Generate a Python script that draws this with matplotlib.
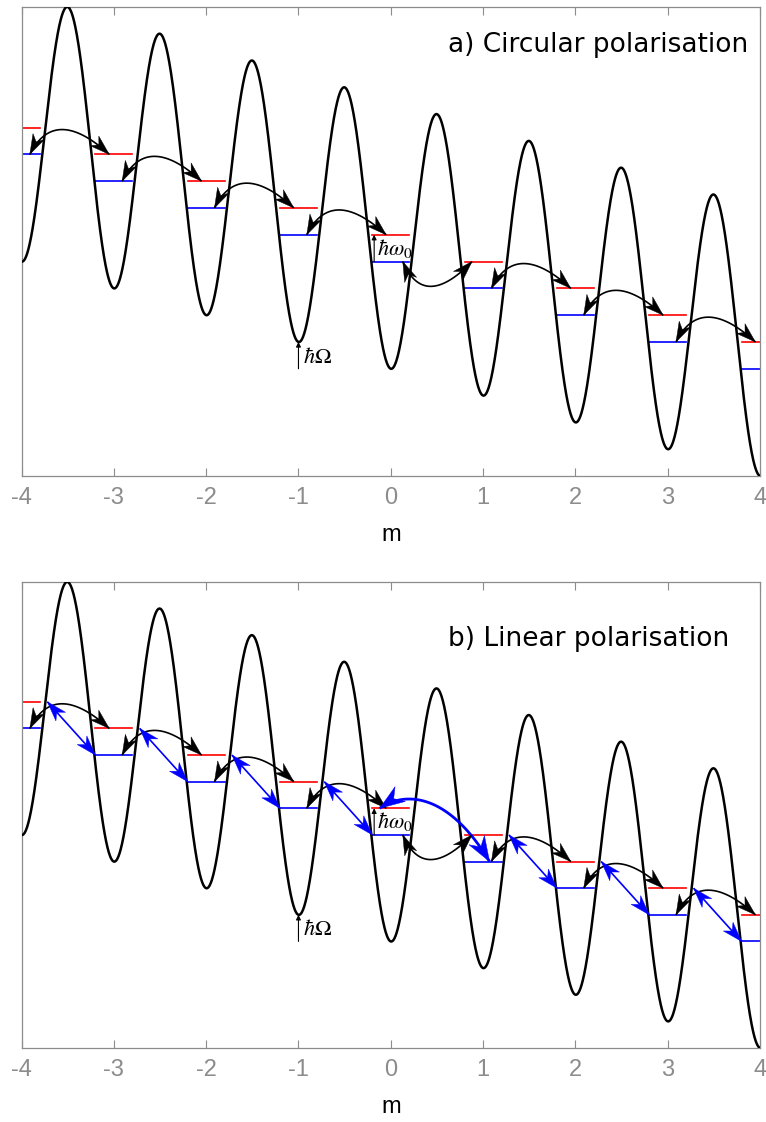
import numpy as np
import matplotlib
matplotlib.use('Agg')
import matplotlib.pyplot as plt
from matplotlib.patches import Polygon

# lattice sites and level energies (in units of hbar*omega0)
m_sites = [-4, -3, -2, -1, 0, 1, 2, 3, 4]
upper_levels = [4, 3, 2, 1, 0, -1, -2, -3, -4]   # red
lower_levels = [3, 2, 1, 0, -1, -2, -3, -4, -5]  # blue

# potential: linear tilt plus periodic modulation
tilt = 1.0
depth = 5.0
period = 1.0

# black arcs: lower level at m -> upper level at m+1 (1 = bends up, -1 = bends down)
arc_from = [-4, -3, -2, -1, 0, 1, 2, 3]
arc_bend = [1, 1, 1, 1, -1, 1, 1, 1]

# blue arrows in panel b: upper level at m -> lower level at m+1
diag_from = [-4, -3, -2, -1, 1, 2, 3]
big_from = 0

xticks = [-4, -3, -2, -1, 0, 1, 2, 3, 4]
titles = ['a) Circular polarisation', 'b) Linear polarisation']
title_y = [0.919, 0.878]

plt.rcParams['axes.unicode_minus'] = False
plt.rcParams['mathtext.fontset'] = 'stix'

GRAY = '#8c8c8c'


def bezier(pts, n=120):
    pts = np.asarray(pts, float)
    t = np.linspace(0, 1, n)[:, None]
    if len(pts) == 3:
        return (1 - t) ** 2 * pts[0] + 2 * (1 - t) * t * pts[1] + t ** 2 * pts[2]
    return ((1 - t) ** 3 * pts[0] + 3 * (1 - t) ** 2 * t * pts[1]
            + 3 * (1 - t) * t ** 2 * pts[2] + t ** 3 * pts[3])


# notched arrow head, sized in pixels
def head(ax, tip, prev, color, L, W, notch):
    T = ax.transData.transform(tip)
    P = ax.transData.transform(prev)
    d = (T - P) / np.hypot(*(T - P))
    p = np.array([-d[1], d[0]])
    poly = np.array([T, T - L * d + W * p, T - (L - notch) * d, T - L * d - W * p])
    poly = ax.transData.inverted().transform(poly)
    ax.add_patch(Polygon(poly, closed=True, fc=color, ec=color, lw=0.3, zorder=5))


def arrow(ax, ctrl, color, lw, L=20, W=6.5, notch=6):
    pts = bezier(ctrl)
    ax.plot(pts[:, 0], pts[:, 1], color=color, lw=lw, solid_capstyle='butt', zorder=4)
    head(ax, ctrl[0], ctrl[1], color, L, W, notch)
    head(ax, ctrl[-1], ctrl[-2], color, L, W, notch)


def draw_panel(ax, title, ty, linear):
    ax.set_xlim(-4, 4)
    ax.set_ylim(-9, 8.5)

    x = np.linspace(-4, 4, 3000)
    v = -tilt * x - depth * np.cos(2 * np.pi * x / period)
    ax.plot(x, v, color='black', lw=1.8, zorder=3)

    for m, up, lo in zip(m_sites, upper_levels, lower_levels):
        ax.plot([m - 0.2, m + 0.2], [up, up], color='red', lw=1.2, zorder=2)
        ax.plot([m - 0.2, m + 0.2], [lo, lo], color='blue', lw=1.2, zorder=2)

    # black arcs
    for m, b in zip(arc_from, arc_bend):
        i = m_sites.index(m)
        lev = lower_levels[i]
        if b > 0:
            p0 = (m + 0.09, lev)
            p1 = (m + 0.95, lev)
        else:
            p0 = (m + 0.13, lev)
            p1 = (m + 0.88, lev)
        c = (m + 0.36, lev + b * 1.85)
        arrow(ax, [p0, c, p1], 'black', 1.2)

    if linear:
        for m in diag_from:
            i = m_sites.index(m)
            p0 = (m + 0.28, upper_levels[i])
            p1 = (m + 0.8, lower_levels[i + 1])
            mid = ((p0[0] + p1[0]) / 2, (p0[1] + p1[1]) / 2)
            arrow(ax, [p0, mid, p1], 'blue', 1.2, L=20, W=6.5, notch=6)
        i = m_sites.index(big_from)
        p0 = (big_from - 0.12, upper_levels[i])
        p3 = (big_from + 1.07, lower_levels[i + 1])
        c1 = (big_from + 0.15, upper_levels[i] + 0.65)
        c2 = (big_from + 0.62, upper_levels[i] + 0.6)
        arrow(ax, [p0, c1, c2, p3], 'blue', 2.0, L=25, W=9, notch=8)

    # hbar Omega and hbar omega0 markers
    ax.annotate('', xy=(-1, -4), xytext=(-1, -5),
                arrowprops=dict(arrowstyle='-|>', color='black', lw=0.8,
                                mutation_scale=7, shrinkA=0, shrinkB=0))
    ax.text(-0.95, -4.55, r'$\hbar\Omega$', fontsize=16, va='center', ha='left')
    ax.annotate('', xy=(-0.18, 0), xytext=(-0.18, -1),
                arrowprops=dict(arrowstyle='-|>', color='black', lw=0.8,
                                mutation_scale=7, shrinkA=0, shrinkB=0))
    ax.text(-0.15, -0.5, r'$\hbar\omega_0$', fontsize=16, va='center', ha='left')

    ax.text(0.577, ty, title, transform=ax.transAxes, fontsize=19,
            family='DejaVu Sans', ha='left', va='center')

    ax.set_xticks(xticks)
    ax.set_xticklabels([str(t) for t in xticks], family='Liberation Sans', fontsize=17)
    ax.set_yticks([])
    ax.tick_params(axis='x', direction='in', top=True, length=6, width=0.8,
                   color=GRAY, labelcolor=GRAY, pad=8)
    for s in ax.spines.values():
        s.set_color(GRAY)
        s.set_linewidth(0.9)
    ax.set_xlabel('m', family='Liberation Sans', fontsize=17, labelpad=11)


fig = plt.figure(figsize=(7.66, 11.22), dpi=100)
ax_a = fig.add_axes([0.0281, 0.5758, 0.9641, 0.418])
ax_b = fig.add_axes([0.0281, 0.0660, 0.9641, 0.4153])

draw_panel(ax_a, titles[0], title_y[0], False)
draw_panel(ax_b, titles[1], title_y[1], True)

fig.savefig('out.png', dpi=100)
